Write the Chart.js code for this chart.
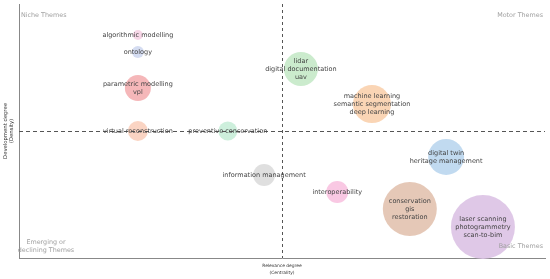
<!DOCTYPE html>
<html>
<head>
<meta charset="utf-8">
<script src="https://cdn.jsdelivr.net/npm/chart.js@4/dist/chart.umd.min.js"></script>
<style>
html,body{margin:0;padding:0;background:#fff;}
#wrap{width:550px;height:279px;position:relative;}
</style>
</head>
<body>
<div id="wrap"><canvas id="c" width="550" height="279"></canvas></div>
<script>
// Theme clusters (labels), centrality (x), density (y), cluster weight (bubble size)
const themes = [
  "algorithmic modelling",
  "ontology",
  "parametric modelling\nvpl",
  "virtual reconstruction",
  "preventive conservation",
  "lidar\ndigital documentation\nuav",
  "machine learning\nsemantic segmentation\ndeep learning",
  "digital twin\nheritage management",
  "information management",
  "interoperability",
  "conservation\ngis\nrestoration",
  "laser scanning\nphotogrammetry\nscan-to-bim"
];
const centrality = [22.6, 22.6, 22.6, 22.6, 39.7, 53.6, 67.1, 81.2, 46.6, 60.5, 74.3, 88.2];
const density    = [87.8, 81.1, 66.9, 50.0, 50.0, 74.4, 60.6, 39.8, 32.7, 26.0, 19.3, 12.2];
const clusterWeight = [5, 6, 13, 10, 9.5, 17, 19, 18, 11, 11, 27, 32];
const centralityMedian = 50;
const densityMedian = 50;
const quadrantNames = ["Niche Themes", "Motor Themes", "Emerging or\ndeclining Themes", "Basic Themes"];

const colors = [
  "rgba(245,205,225,0.8)",
  "rgba(205,214,238,0.85)",
  "rgba(242,165,168,0.8)",
  "rgba(249,205,185,0.85)",
  "rgba(196,236,214,0.85)",
  "rgba(194,232,196,0.85)",
  "rgba(249,206,168,0.85)",
  "rgba(186,214,238,0.9)",
  "rgba(220,220,220,0.9)",
  "rgba(248,190,222,0.85)",
  "rgba(226,194,175,0.9)",
  "rgba(219,194,228,0.9)"
];

const points = themes.map((t, i) => ({x: centrality[i], y: density[i], r: clusterWeight[i], label: t}));

const overlay = {
  id: 'overlay',
  afterDatasetsDraw(chart) {
    const ctx = chart.ctx;
    const a = chart.chartArea;
    const xs = chart.scales.x, ys = chart.scales.y;
    ctx.save();
    // median dashed lines
    ctx.strokeStyle = '#555';
    ctx.lineWidth = 1;
    ctx.setLineDash([4, 3]);
    const mx = Math.round(xs.getPixelForValue(centralityMedian)) + 0.5;
    const my = Math.round(ys.getPixelForValue(densityMedian)) + 0.5;
    ctx.beginPath();
    ctx.moveTo(a.left, my); ctx.lineTo(a.right, my);
    ctx.stroke();
    ctx.setLineDash([3, 3]);
    ctx.beginPath();
    ctx.moveTo(mx, a.top); ctx.lineTo(mx, a.bottom);
    ctx.stroke();
    ctx.setLineDash([]);
    // bubble labels
    ctx.fillStyle = '#444';
    ctx.font = '6.5px "DejaVu Sans"';
    ctx.textAlign = 'center';
    ctx.textBaseline = 'middle';
    const meta = chart.getDatasetMeta(0);
    meta.data.forEach((el, i) => {
      const lines = themes[i].split('\n');
      const lh = 8;
      lines.forEach((ln, k) => {
        ctx.fillText(ln, el.x, el.y + (k - (lines.length - 1) / 2) * lh);
      });
    });
    // quadrant names
    ctx.fillStyle = '#a0a0a0';
    ctx.font = '6.4px "DejaVu Sans"';
    ctx.textBaseline = 'middle';
    ctx.textAlign = 'left';
    ctx.fillText(quadrantNames[0], a.left + 2, a.top + 11);
    ctx.textAlign = 'right';
    ctx.fillText(quadrantNames[1], a.right - 2, a.top + 11);
    ctx.textAlign = 'center';
    const em = quadrantNames[2].split('\n');
    ctx.fillText(em[0], a.left + 27, a.bottom - 16);
    ctx.fillText(em[1], a.left + 27, a.bottom - 8);
    ctx.textAlign = 'right';
    ctx.fillText(quadrantNames[3], a.right - 2, a.bottom - 12);
    ctx.restore();
  }
};

new Chart(document.getElementById('c'), {
  type: 'bubble',
  data: {
    datasets: [{
      data: points,
      backgroundColor: colors,
      borderWidth: 0,
      hoverBorderWidth: 0,
      clip: false
    }]
  },
  options: {
    responsive: false,
    animation: false,
    devicePixelRatio: 1,
    layout: {autoPadding: false, padding: {top: 4, right: 5, left: 0, bottom: 0}},
    plugins: {legend: {display: false}, tooltip: {enabled: false}},
    scales: {
      x: {
        type: 'linear', min: 0, max: 100,
        ticks: {display: false},
        grid: {display: false, drawTicks: false},
        border: {display: true, color: '#888', width: 1},
        title: {display: true, text: ['Relevance degree', '(Centrality)'], color: '#333',
                font: {family: 'DejaVu Sans', size: 4.4, lineHeight: 1.6}, padding: {top: 3, bottom: 3}},
        afterFit(s) { s.height = 21; }
      },
      y: {
        type: 'linear', min: 0, max: 100,
        ticks: {display: false},
        grid: {display: false, drawTicks: false},
        border: {display: true, color: '#888', width: 1},
        title: {display: true, text: ['Development degree', '(Density)'], color: '#333',
                font: {family: 'DejaVu Sans', size: 5.3, lineHeight: 1.2}, padding: {top: 2, bottom: 3}},
        afterFit(s) { s.width = 19; }
      }
    }
  },
  plugins: [overlay]
});
</script>
</body>
</html>
